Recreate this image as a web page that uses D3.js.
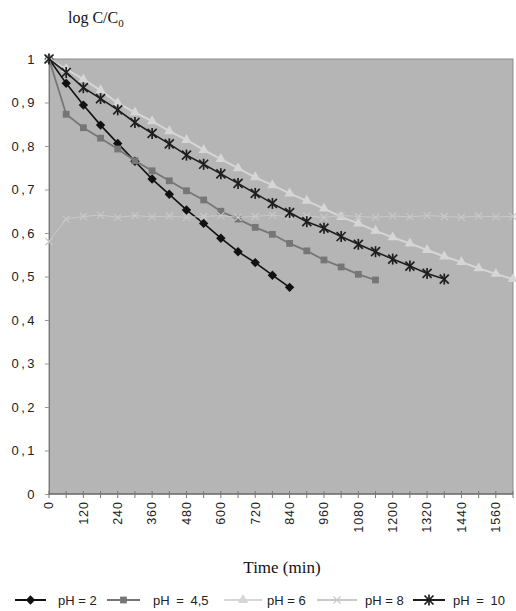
<!DOCTYPE html>
<html>
<head>
<meta charset="utf-8">
<script src="https://cdn.jsdelivr.net/npm/d3@7"></script>
<style>
  body { margin: 0; background: #fff; }
  svg { display: block; }
</style>
</head>
<body>
<div id="chart"></div>
<script>
var w = 516;
var h = 611;

// time categories (min)
var minutes = [0, 60, 120, 180, 240, 300, 360, 420, 480, 540, 600, 660, 720, 780, 840,
  900, 960, 1020, 1080, 1140, 1200, 1260, 1320, 1380, 1440, 1500, 1560, 1620];

var ph2 = [1, 0.944, 0.894, 0.848, 0.806, 0.765, 0.724, 0.689, 0.653, 0.622, 0.588, 0.557, 0.532, 0.503, 0.475];
var ph45 = [1, 0.873, 0.842, 0.818, 0.793, 0.766, 0.743, 0.72, 0.697, 0.676, 0.65, 0.632, 0.613, 0.597, 0.576,
  0.559, 0.538, 0.522, 0.505, 0.492];
var ph6 = [1, 0.977, 0.953, 0.928, 0.899, 0.877, 0.857, 0.834, 0.814, 0.791, 0.77, 0.749, 0.728, 0.71, 0.691,
  0.674, 0.656, 0.637, 0.622, 0.605, 0.59, 0.576, 0.561, 0.546, 0.533, 0.519, 0.506, 0.494];
var ph8 = [0.58, 0.632, 0.638, 0.641, 0.636, 0.64, 0.637, 0.639, 0.636, 0.638, 0.64, 0.636, 0.638, 0.641, 0.637,
  0.639, 0.636, 0.64, 0.638, 0.636, 0.639, 0.637, 0.64, 0.638, 0.636, 0.639, 0.637, 0.638];
var ph10 = [1, 0.969, 0.934, 0.909, 0.883, 0.854, 0.829, 0.805, 0.779, 0.758, 0.736, 0.714, 0.691, 0.668, 0.647,
  0.626, 0.611, 0.592, 0.574, 0.557, 0.54, 0.524, 0.507, 0.494];

var seriesNames = ["pH = 2", "pH = 4,5", "pH = 6", "pH = 8", "pH = 10"];
var seriesValues = [ph2, ph45, ph6, ph8, ph10];
var seriesColors = ["#111111", "#767676", "#d6d6d6", "#c9c9c9", "#1e1e1e"];
var seriesMarkers = ["diamond", "square", "triangle", "x", "star"];

var yTicks = [0, 0.1, 0.2, 0.3, 0.4, 0.5, 0.6, 0.7, 0.8, 0.9, 1];
var xLabels = [0, 120, 240, 360, 480, 600, 720, 840, 960, 1080, 1200, 1320, 1440, 1560];

var plotL = 49, plotR = 513, plotT = 59, plotB = 494;

var x = d3.scaleLinear().domain([0, 1620]).range([plotL, plotR]);
var y = d3.scaleLinear().domain([0, 1]).range([plotB, plotT]);

var svg = d3.select("#chart").append("svg")
  .attr("width", w)
  .attr("height", h);

// plot background
svg.append("rect")
  .attr("x", plotL).attr("y", plotT)
  .attr("width", plotR - plotL).attr("height", plotB - plotT)
  .attr("fill", "#b5b5b5")
  .attr("stroke", "#8c8c8c")
  .attr("stroke-width", 1);

// y axis
var yAxis = d3.axisLeft(y)
  .tickValues(yTicks)
  .tickSize(4)
  .tickPadding(8)
  .tickFormat(function(d) { return d === 0 || d === 1 ? d : d3.format(".1f")(d).replace(".", ","); });

var gy = svg.append("g").attr("transform", "translate(" + plotL + ",0)").call(yAxis);
gy.select(".domain").attr("stroke", "#777");
gy.selectAll(".tick line").attr("stroke", "#999");
gy.selectAll("text")
  .attr("font-family", "Liberation Sans, Arial, sans-serif")
  .attr("font-size", "13px")
  .attr("letter-spacing", "2.5px")
  .attr("fill", "#222");

// x axis
var gx = svg.append("g").attr("transform", "translate(0," + plotB + ")");
gx.append("line")
  .attr("x1", plotL).attr("x2", plotR)
  .attr("stroke", "#555");
gx.selectAll("line.tk")
  .data(minutes)
  .enter()
  .append("line")
  .attr("class", "tk")
  .attr("x1", function(d) { return x(d); })
  .attr("x2", function(d) { return x(d); })
  .attr("y1", -3).attr("y2", 4)
  .attr("stroke", "#777");
gx.selectAll("text")
  .data(xLabels)
  .enter()
  .append("text")
  .text(function(d) { return d; })
  .attr("transform", function(d) { return "translate(" + x(d) + ",7) rotate(-90)"; })
  .attr("text-anchor", "end")
  .attr("dy", "0.35em")
  .attr("font-family", "Liberation Sans, Arial, sans-serif")
  .attr("font-size", "12.5px")
  .attr("letter-spacing", "1px")
  .attr("fill", "#222");

// marker shapes
function drawMarker(g, type, color, cx, cy) {
  var t = "translate(" + cx + "," + cy + ")";
  if (type === "star") {
    var r = 4.5;
    var s = g.append("g").attr("transform", t);
    [[-r, -r, r, r], [-r, r, r, -r], [0, -r - 1, 0, r + 1]].forEach(function(l) {
      s.append("line")
        .attr("x1", l[0]).attr("y1", l[1]).attr("x2", l[2]).attr("y2", l[3])
        .attr("stroke", color).attr("stroke-width", 1.7);
    });
    return;
  }
  if (type === "diamond") {
    g.append("path")
      .attr("d", d3.symbol().type(d3.symbolSquare).size(44)())
      .attr("transform", t + " rotate(45)")
      .attr("fill", color);
    return;
  }
  if (type === "square") {
    g.append("path")
      .attr("d", d3.symbol().type(d3.symbolSquare).size(46)())
      .attr("transform", t)
      .attr("fill", color);
    return;
  }
  if (type === "triangle") {
    g.append("path")
      .attr("d", d3.symbol().type(d3.symbolTriangle).size(46)())
      .attr("transform", t)
      .attr("fill", color);
    return;
  }
  g.append("path")
    .attr("d", d3.symbol().type(d3.symbolTimes).size(34)())
    .attr("transform", t)
    .attr("fill", "none")
    .attr("stroke", color)
    .attr("stroke-width", 1.2);
}

var line = d3.line()
  .x(function(d, i) { return x(minutes[i]); })
  .y(function(d) { return y(d); });

var widths = [1.6, 1.8, 2, 1, 1.6];

seriesValues.forEach(function(vals, k) {
  var g = svg.append("g");
  g.append("path")
    .datum(vals)
    .attr("d", line)
    .attr("fill", "none")
    .attr("stroke", seriesColors[k])
    .attr("stroke-width", widths[k]);
  vals.forEach(function(v, i) {
    drawMarker(g, seriesMarkers[k], seriesColors[k], x(minutes[i]), y(v));
  });
});

// titles
svg.append("text")
  .attr("x", 68).attr("y", 23)
  .attr("font-family", "Liberation Serif, Times New Roman, serif")
  .attr("font-size", "16px")
  .attr("fill", "#111")
  .html("log C/C<tspan font-size='11px' dy='4'>0</tspan>");

svg.append("text")
  .attr("x", 282).attr("y", 573)
  .attr("text-anchor", "middle")
  .attr("font-family", "Liberation Serif, Times New Roman, serif")
  .attr("font-size", "17px")
  .attr("fill", "#111")
  .text("Time (min)");

// legend
var legendX = [3, 95, 212, 305, 398];
var legendLine = [[12, 43], [12, 45], [12, 50], [12, 52], [15, 47]];
var legendText = [55, 58, 55, 60, 55];
var legend = svg.append("g").attr("transform", "translate(0,600)");
seriesNames.forEach(function(name, k) {
  var g = legend.append("g").attr("transform", "translate(" + legendX[k] + ",0)");
  g.append("line")
    .attr("x1", legendLine[k][0]).attr("x2", legendLine[k][1])
    .attr("stroke", seriesColors[k]).attr("stroke-width", 2);
  drawMarker(g, seriesMarkers[k], seriesColors[k], (legendLine[k][0] + legendLine[k][1]) / 2, 0);
  g.append("text")
    .attr("x", legendText[k]).attr("y", 0)
    .attr("dy", "0.35em")
    .attr("font-family", "Liberation Sans, Arial, sans-serif")
    .attr("font-size", "13px")
    .attr("word-spacing", k === 1 || k === 4 ? "3px" : "0px")
    .attr("fill", "#222")
    .text(name);
});
</script>
</body>
</html>
